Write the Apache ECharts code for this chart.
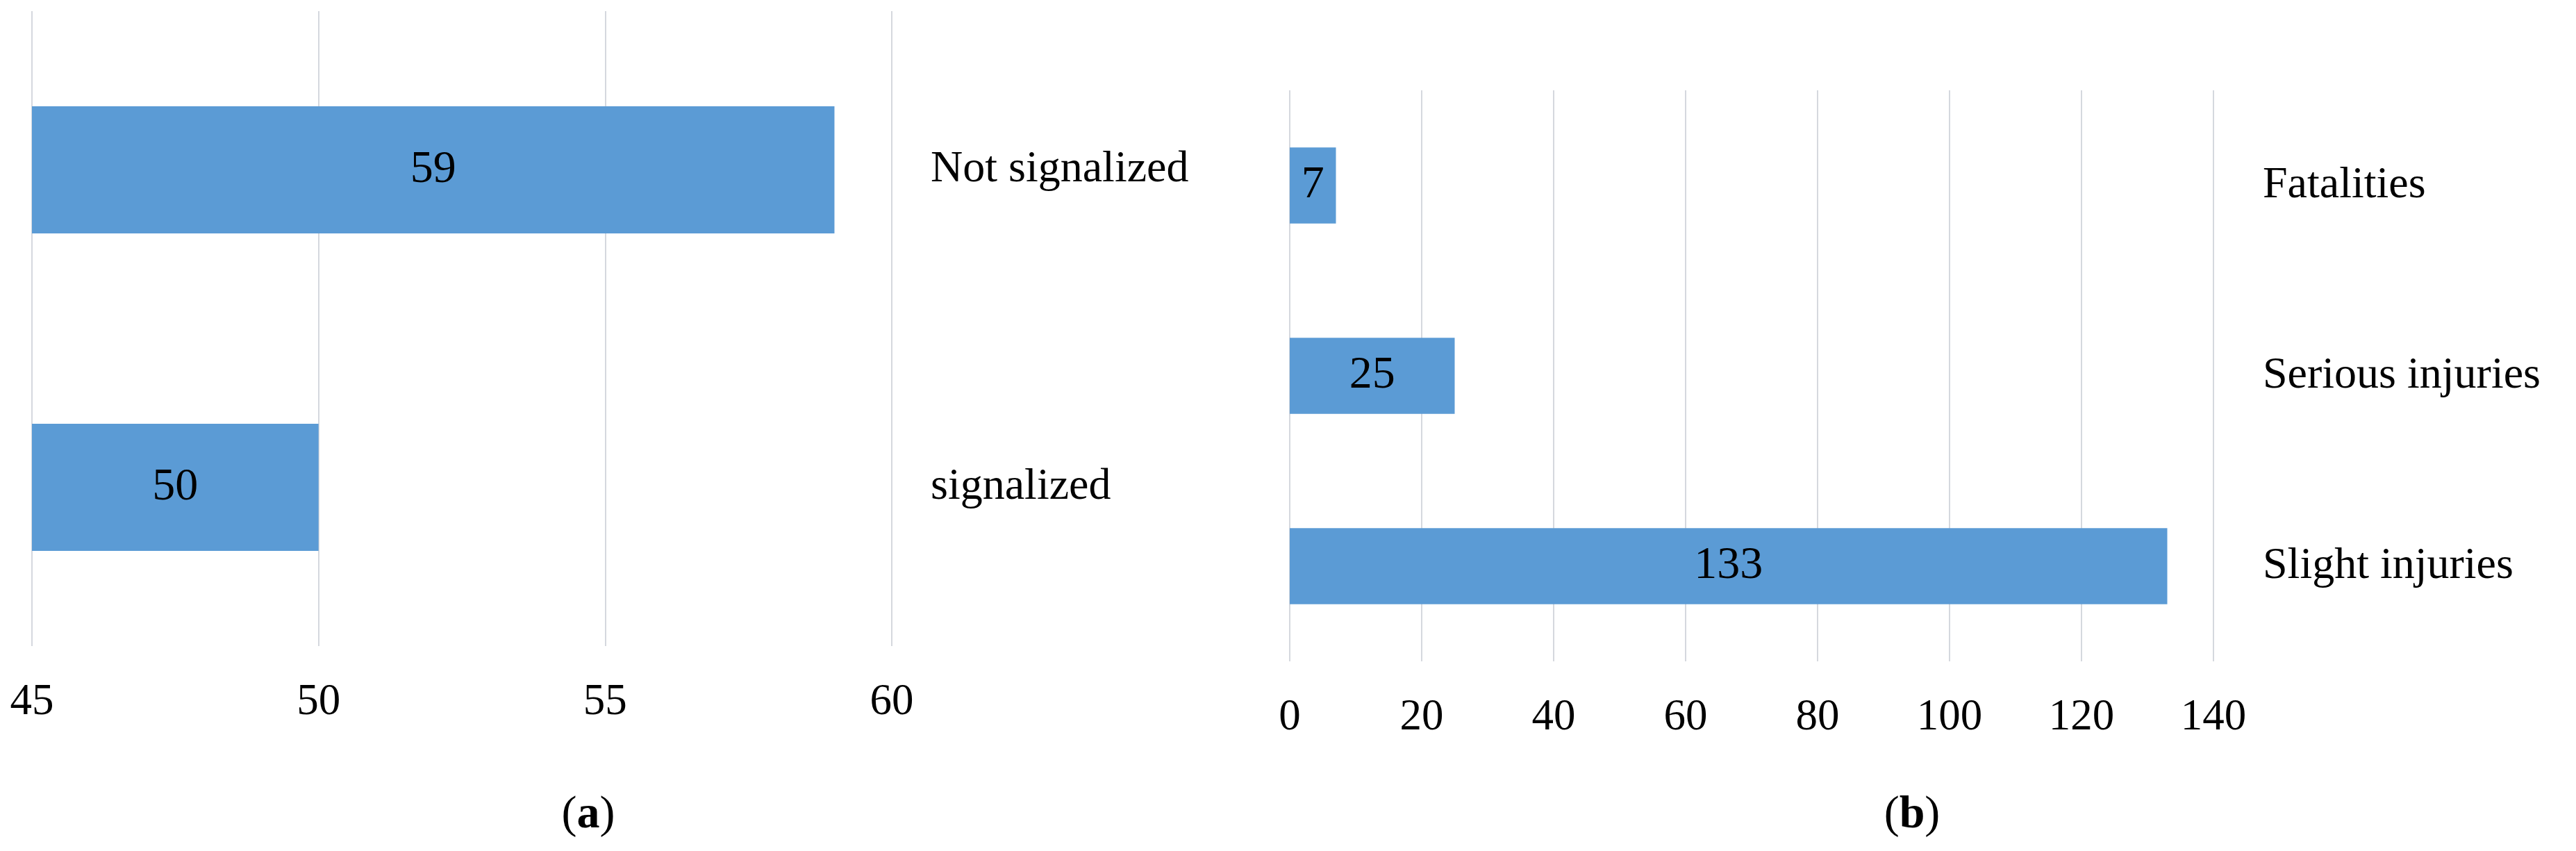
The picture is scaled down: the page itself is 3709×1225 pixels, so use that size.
<!DOCTYPE html>
<html style="height: 100%">
<head>
<meta charset="utf-8">
<script src="https://cdn.jsdelivr.net/npm/echarts@6/dist/echarts.min.js"></script>
</head>
<body style="height: 100%; margin: 0; background: #fff">
<div id="container" style="width: 3709px; height: 1225px"></div>
<script type="text/javascript">
// ------ data ------
var catsA = ['Not signalized', 'signalized'];
var valsA = [59, 50];
var ticksA = [45, 50, 55, 60];

var catsB = ['Fatalities', 'Serious injuries', 'Slight injuries'];
var valsB = [7, 25, 133];
var ticksB = [0, 20, 40, 60, 80, 100, 120, 140];
// ------------------

var FONT = 'Liberation Serif';
var BLUE = '#5b9bd5';
var GRID_LINE = '#d5d8de';

var myChart = echarts.init(document.getElementById('container'));

function valueAxis(idx, ticks, margin) {
	return {
		type: 'value',
		gridIndex: idx,
		min: ticks[0],
		max: ticks[ticks.length - 1],
		interval: ticks[1] - ticks[0],
		startValue: ticks[0],
		axisLine: { show: false },
		axisTick: { show: false },
		splitLine: { show: true, lineStyle: { color: GRID_LINE, width: 2 } },
		axisLabel: { fontFamily: FONT, fontSize: 63, color: '#000', margin: margin }
	};
}

function catAxis(idx, cats, margin, size) {
	return {
		type: 'category',
		gridIndex: idx,
		data: cats,
		inverse: true,
		position: 'right',
		axisLine: { show: false },
		axisTick: { show: false },
		axisLabel: { fontFamily: FONT, fontSize: size, color: '#000', margin: margin, align: 'left' }
	};
}

function barSeries(idx, vals) {
	return {
		type: 'bar',
		xAxisIndex: idx,
		yAxisIndex: idx,
		data: vals,
		barWidth: '40%',
		itemStyle: { color: BLUE },
		label: {
			show: true,
			position: 'inside',
			fontFamily: FONT,
			fontSize: 66,
			color: '#000'
		}
	};
}

function panelTitle(letter, x) {
	return {
		text: '({b|' + letter + '})',
		left: x,
		top: 1136,
		textAlign: 'center',
		textStyle: { fontFamily: FONT, fontSize: 66, fontWeight: 'normal', color: '#000',
			rich: { b: { fontFamily: FONT, fontSize: 66, fontWeight: 'bold', color: '#000' } } }
	};
}

var option = {
	animation: false,
	backgroundColor: '#fff',
	title: [
		panelTitle('a', 842),
		panelTitle('b', 2748)
	],
	grid: [
		{ left: 46, top: 16, width: 1238, height: 914, outerBoundsMode: 'none' },
		{ left: 1857, top: 130, width: 1330, height: 822, outerBoundsMode: 'none' }
	],
	xAxis: [
		valueAxis(0, ticksA, 50),
		valueAxis(1, ticksB, 50)
	],
	yAxis: [
		catAxis(0, catsA, 56, 64),
		catAxis(1, catsB, 71, 64)
	],
	series: [
		barSeries(0, valsA),
		barSeries(1, valsB)
	]
};

myChart.setOption(option);
</script>
</body>
</html>
